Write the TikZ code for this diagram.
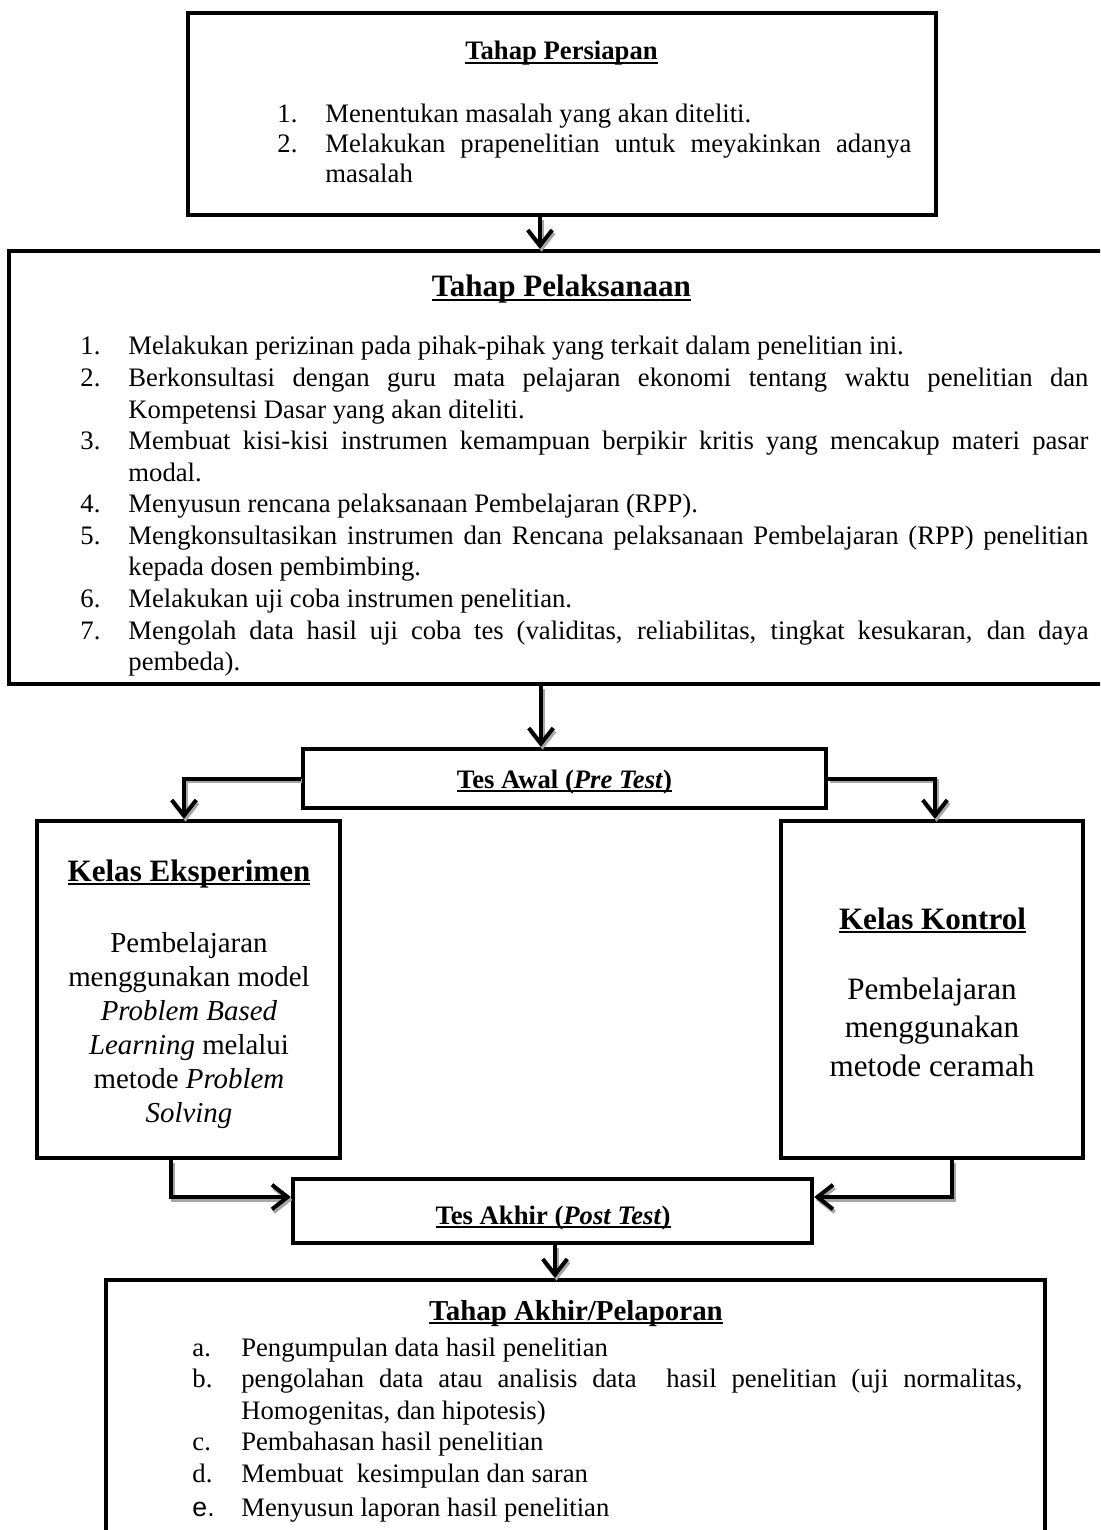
\documentclass[tikz,border=0pt]{standalone}
\usepackage{fontspec}
\setmainfont{Liberation Serif}
\newfontfamily\sansE{Liberation Sans}
\usetikzlibrary{arrows.meta}
\hyphenpenalty=10000
\exhyphenpenalty=10000
\newlength\itind
\newcommand{\litem}[2]{\hangindent=\itind\hangafter=1\noindent\makebox[\itind][l]{#1}#2\par}
\newcommand{\myul}[3]{\setbox0=\hbox{#3}\rlap{\rule[-#1]{\wd0}{#2}}\box0}
\newcommand{\cnx}[1]{\draw[shad] #1; \draw[conn] #1;}
\begin{document}
\begin{tikzpicture}[x=0.45pt,y=-0.45pt,
  box/.style={draw, line width=2pt, inner sep=0pt, outer sep=auto},
  conn/.style={line width=1.8pt, -{Straight Barb[length=7pt,width=11pt]}},
  shad/.style={conn, draw=black!35, transform canvas={xshift=0.7pt,yshift=-1.3pt}},
  lbl/.style={inner sep=0pt, anchor=base},
  lst/.style={inner sep=0pt, anchor=base west, align=justify},
  ttl/.style={lbl, font=\bfseries\fontsize{12}{14}\selectfont},
  bigttl/.style={lbl, font=\bfseries\fontsize{14}{16}\selectfont}
]
\useasboundingbox (0,0) rectangle (1100,1530);
\clip (0,0) rectangle (1100,1530);

% boxes
\node[box, minimum width=336.6pt, minimum height=90.9pt] (prep) at (562,114) {};
\node[box, minimum width=496.35pt, minimum height=194.85pt] (pel) at (560.5,467.5) {};
\node[box, minimum width=235.35pt, minimum height=26.55pt] (pre) at (564.5,778.5) {};
\node[box, minimum width=136.35pt, minimum height=151.65pt] (eks) at (188.5,989.5) {};
\node[box, minimum width=135.9pt, minimum height=151.65pt] (kon) at (932,989.5) {};
\node[box, minimum width=233.55pt, minimum height=28.8pt] (post) at (552.5,1211) {};
\node[box, minimum width=422.55pt, minimum height=121.5pt] (akh) at (575.5,1415) {};

% helper coordinates
\coordinate (c1) at (540,0);
\coordinate (c2) at (541,0);
\coordinate (c3) at (555,0);
\coordinate (cl) at (184,0);
\coordinate (cr) at (935,0);
\coordinate (ce) at (171,0);
\coordinate (ck) at (952,0);
\coordinate (cy) at (0,1197);

% connectors
\cnx{(prep.south -| c1) -- (pel.north -| c1)}
\cnx{(pel.south -| c2) -- (pre.north -| c2)}
\cnx{(pre.west) -| (eks.north -| cl)}
\cnx{(pre.east) -| (kon.north -| cr)}
\cnx{(eks.south -| ce) |- (post.west |- cy)}
\cnx{(kon.south -| ck) |- (post.east |- cy)}
\cnx{(post.south -| c3) -- (akh.north -| c3)}

% Tahap Persiapan
\node[ttl] (tprep) at (561.5,60) {\myul{1.8pt}{0.9pt}{Tahap Persiapan}};
\node[lst, font=\fontsize{12}{13.3}\selectfont, text width=285.3pt] (lprep) at (277,123) {\setlength\itind{21.6pt}%
\litem{1.}{Menentukan masalah yang akan diteliti.}%
\litem{2.}{Melakukan prapenelitian untuk meyakinkan adanya \linebreak masalah}};

% Tahap Pelaksanaan
\node[bigttl] (tpel) at (561.5,297) {\myul{2pt}{1pt}{Tahap Pelaksanaan}};
\node[lst, font=\fontsize{12}{14.2}\selectfont, text width=453.6pt] (lpel) at (80,355) {\setlength\itind{21.6pt}%
\litem{1.}{Melakukan perizinan pada pihak-pihak yang terkait dalam penelitian ini.}%
\litem{2.}{Berkonsultasi dengan guru mata pelajaran ekonomi tentang waktu penelitian dan \linebreak Kompetensi Dasar yang akan diteliti.}%
\litem{3.}{Membuat kisi-kisi instrumen kemampuan berpikir kritis yang mencakup materi pasar \linebreak modal.}%
\litem{4.}{Menyusun rencana pelaksanaan Pembelajaran (RPP).}%
\litem{5.}{Mengkonsultasikan instrumen dan Rencana pelaksanaan Pembelajaran (RPP) penelitian \linebreak kepada dosen pembimbing.}%
\litem{6.}{Melakukan uji coba instrumen penelitian.}%
\litem{7.}{Mengolah data hasil uji coba tes (validitas, reliabilitas, tingkat kesukaran, dan daya \linebreak pembeda).}};

% Tes Awal
\node[ttl] (tpre) at (564.5,788) {\myul{1.8pt}{0.9pt}{Tes Awal (\textit{Pre Test})}};

% Kelas Eksperimen
\node[bigttl] (teks) at (189,881) {\myul{2pt}{1pt}{Kelas Eksperimen}};
\node[lbl, align=center, font=\fontsize{13}{15.3}\selectfont] (beks) at (189,1122)
  {Pembelajaran\\menggunakan model\\\textit{Problem Based}\\\textit{Learning} melalui\\metode \textit{Problem}\\\textit{Solving}};

% Kelas Kontrol
\node[bigttl] (tkon) at (932.5,929) {\myul{2pt}{1pt}{Kelas Kontrol}};
\node[lbl, align=center, font=\fontsize{14}{17.2}\selectfont] (bkon) at (932,1076)
  {Pembelajaran\\menggunakan\\metode ceramah};

% Tes Akhir
\node[ttl] (tpost) at (553,1224) {\myul{1.8pt}{0.9pt}{Tes Akhir (\textit{Post Test})}};

% Tahap Akhir
\node[lbl, font=\bfseries\fontsize{13}{15}\selectfont] (takh) at (576,1320) {\myul{1.9pt}{0.95pt}{Tahap Akhir/Pelaporan}};
\node[lst, font=\fontsize{12}{14.2}\selectfont, text width=373.5pt] (lakh) at (192,1356) {\setlength\itind{22pt}%
\litem{a.}{Pengumpulan data hasil penelitian}%
\litem{b.}{pengolahan data atau analisis data\ \ hasil penelitian (uji normalitas, \linebreak Homogenitas, dan hipotesis)}%
\litem{c.}{Pembahasan hasil penelitian}%
\litem{d.}{Membuat\ \ kesimpulan dan saran}%
\vspace{1.4pt}%
\litem{{\sansE e.}}{Menyusun laporan hasil penelitian}};
\end{tikzpicture}
\end{document}
